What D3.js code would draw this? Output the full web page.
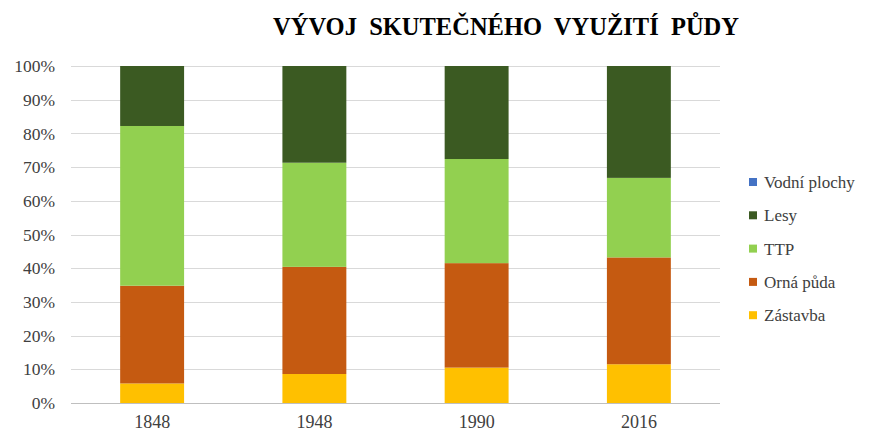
<!DOCTYPE html>
<html>
<head>
<meta charset="utf-8">
<script src="https://cdn.jsdelivr.net/npm/d3@7/dist/d3.min.js"></script>
<style>
  html, body { margin: 0; padding: 0; background: #fff; }
  svg { display: block; }
  text { font-family: "Liberation Serif", "Times New Roman", "DejaVu Serif", serif; fill: #404040; }
</style>
</head>
<body>
<svg id="chart" width="875" height="434"></svg>
<script>
// Years shown on the category axis
const years = ["1848", "1948", "1990", "2016"];

// Land-use shares in percent, bottom to top of each stack
const zastavba     = [5.8, 8.6, 10.5, 11.5];
const ornaPuda     = [29.0, 31.8, 31.0, 31.7];
const ttp          = [47.4, 30.9, 30.9, 23.6];
const lesy         = [17.8, 28.7, 27.6, 33.2];
const vodniPlochy  = [0.0, 0.0, 0.0, 0.0];

const seriesNames  = ["Zástavba", "Orná půda", "TTP", "Lesy", "Vodní plochy"];
const seriesValues = [zastavba, ornaPuda, ttp, lesy, vodniPlochy];
const seriesColors = ["#FFC000", "#C55A11", "#92D050", "#3B5A22", "#4472C4"];

const yTicks = [0, 0.1, 0.2, 0.3, 0.4, 0.5, 0.6, 0.7, 0.8, 0.9, 1.0];
const title = "VÝVOJ  SKUTEČNÉHO  VYUŽITÍ  PŮDY";

const serif = "'Liberation Serif', 'Times New Roman', 'DejaVu Serif', serif";

// Rows for d3.stack, normalised to 100 %
const rows = years.map((y, i) => {
  const r = { year: y };
  let total = 0;
  seriesNames.forEach((n, s) => { total += seriesValues[s][i]; });
  seriesNames.forEach((n, s) => { r[n] = seriesValues[s][i] / total; });
  return r;
});

const svg = d3.select("#chart");
const plot = { left: 71, right: 720, top: 66, bottom: 403 };

const x = d3.scaleBand()
  .domain(years)
  .range([plot.left, plot.right])
  .paddingInner(0.606)
  .paddingOuter(0.303);

const y = d3.scaleLinear().domain([0, 1]).range([plot.bottom, plot.top]);

// Title
svg.append("text")
  .attr("x", 506)
  .attr("y", 35)
  .attr("text-anchor", "middle")
  .attr("xml:space", "preserve")
  .style("font-family", serif)
  .style("font-size", "24.5px")
  .style("font-weight", "bold")
  .style("fill", "#000")
  .style("white-space", "pre")
  .text(title);

// Horizontal gridlines
svg.append("g")
  .selectAll("line")
  .data(yTicks)
  .join("line")
  .attr("x1", plot.left)
  .attr("x2", plot.right)
  .attr("y1", d => Math.round(y(d)) + 0.5)
  .attr("y2", d => Math.round(y(d)) + 0.5)
  .attr("stroke", d => d === 0 ? "#bfbfbf" : "#d9d9d9")
  .attr("stroke-width", 1);

// Y axis labels
const yAxis = d3.axisLeft(y)
  .tickValues(yTicks)
  .tickFormat(d3.format(".0%"))
  .tickSize(0)
  .tickPadding(16);
svg.append("g")
  .attr("transform", `translate(${plot.left},0)`)
  .call(yAxis)
  .attr("font-family", null)
  .call(g => g.select(".domain").remove())
  .selectAll("text")
  .style("font-family", serif)
  .style("font-size", "17.5px")
  .style("fill", "#404040");

// Stacked bars
const stack = d3.stack().keys(seriesNames);
const layers = stack(rows);

svg.append("g")
  .selectAll("g")
  .data(layers)
  .join("g")
  .attr("fill", (d, i) => seriesColors[i])
  .selectAll("rect")
  .data(d => d)
  .join("rect")
  .attr("x", d => x(d.data.year))
  .attr("width", x.bandwidth())
  .attr("y", d => y(d[1]))
  .attr("height", d => Math.max(0, y(d[0]) - y(d[1])));

// X axis labels
const xAxis = d3.axisBottom(x).tickSize(0).tickPadding(12);
svg.append("g")
  .attr("transform", `translate(0,${plot.bottom})`)
  .call(xAxis)
  .attr("font-family", null)
  .call(g => g.select(".domain").remove())
  .selectAll("text")
  .style("font-family", serif)
  .style("font-size", "18px")
  .style("fill", "#404040");

// Legend, top entry is the top of the stack
const legendOrder = seriesNames.map((n, i) => i).reverse();
const legend = svg.append("g").attr("transform", "translate(749,0)");
legendOrder.forEach((si, k) => {
  const cy = 182 + k * 33.3;
  legend.append("rect")
    .attr("x", 0)
    .attr("y", cy - 4)
    .attr("width", 8)
    .attr("height", 8)
    .attr("fill", seriesColors[si]);
  legend.append("text")
    .attr("x", 15)
    .attr("y", cy)
    .attr("dy", "0.35em")
    .style("font-family", serif)
    .style("font-size", "17px")
    .style("fill", "#404040")
    .text(seriesNames[si]);
});
</script>
</body>
</html>
